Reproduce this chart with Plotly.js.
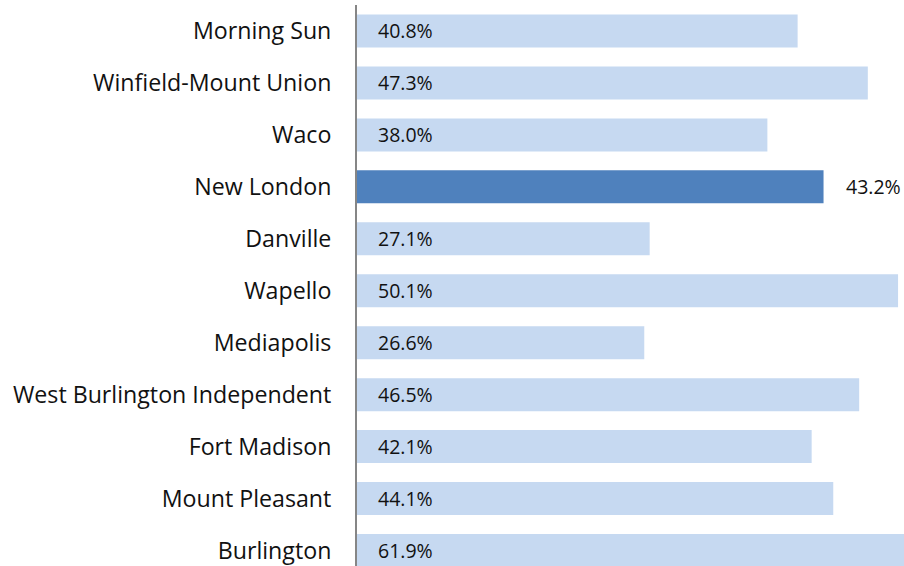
<!DOCTYPE html>
<html>
<head>
<meta charset="utf-8">
<script src="https://cdn.plot.ly/plotly-3.0.1.min.js"></script>
<style>html,body{margin:0;padding:0;background:#fff;overflow:hidden;}#chart{width:904px;height:566px;}</style>
</head>
<body>
<div id="chart"></div>
<script>
const categories = ["Morning Sun","Winfield-Mount Union","Waco","New London","Danville","Wapello","Mediapolis","West Burlington Independent","Fort Madison","Mount Pleasant","Burlington"];
const values = [40.8,47.3,38.0,43.2,27.1,50.1,26.6,46.5,42.1,44.1,61.9];
const highlight = "New London";

const FONT = "'Open Sans', sans-serif";
const colors = categories.map(c => c === highlight ? "#4f81bd" : "#c6d9f1");
const annotations = categories.map((c, i) => {
  const hl = c === highlight;
  return {
    x: hl ? values[i] : 0, y: c, xref: "x", yref: "y",
    text: values[i].toFixed(1) + "%",
    showarrow: false, xanchor: "left", yanchor: "middle",
    xshift: hl ? 20 : 19,
    font: {family: FONT, size: 19.5, color: "#111"}
  };
});

const trace = {
  type: "bar", orientation: "h",
  x: values, y: categories,
  marker: {color: colors, line: {width: 0}},
  hoverinfo: "none"
};

const layout = {
  width: 904, height: 566,
  margin: {l: 357, r: 0, t: 4.5, b: 0, pad: 0},
  paper_bgcolor: "#fff", plot_bgcolor: "#fff",
  bargap: 0.365,
  showlegend: false,
  xaxis: {range: [0, 50.65], visible: false, fixedrange: true},
  yaxis: {
    type: "category",
    range: [10.298, -0.5],
    showline: true, linecolor: "#868686", linewidth: 2,
    showgrid: false, zeroline: false, ticks: "",
    ticklabelstandoff: 19,
    tickfont: {family: FONT, size: 23.2, color: "#111"}
  },
  annotations: annotations
};

Plotly.newPlot("chart", [trace], layout, {displayModeBar: false, staticPlot: true});
</script>
</body>
</html>
